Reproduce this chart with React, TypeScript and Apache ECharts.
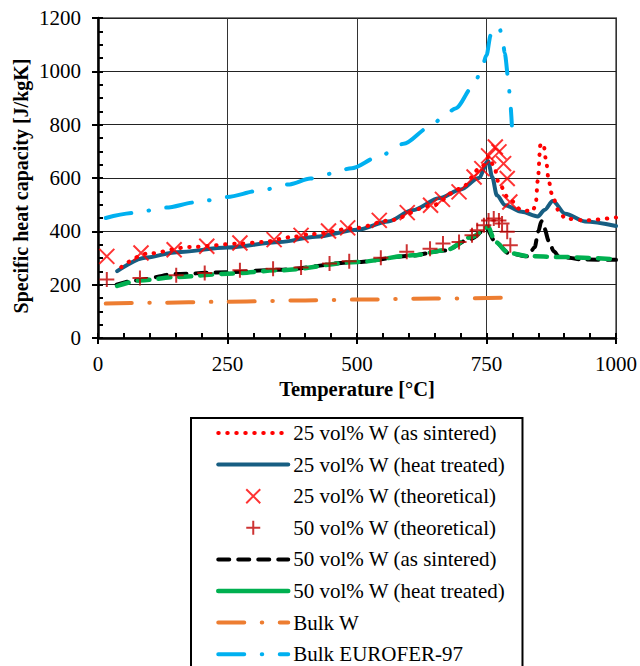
import React, { useEffect, useRef } from "react";
import * as echarts from "echarts";

const SERIF = "Liberation Serif";

// Temperature [°C] / specific heat capacity [J/kgK] pairs
const sintered25: [number, number][] = [
  [45, 266], [94, 316], [177, 341], [274, 354], [318, 360], [376, 379], [408, 389],
  [500, 413], [560, 440], [645, 497], [700, 560], [740, 640], [755, 680], [765, 640],
  [774, 579], [793, 523], [818, 479], [839, 475], [845, 501], [849, 591], [854, 723],
  [860, 729], [865, 666], [870, 591], [876, 541], [889, 479], [902, 448], [940, 441],
  [1000, 452],
];
const treated25: [number, number][] = [
  [37, 251], [91, 301], [152, 322], [250, 339], [351, 360], [420, 380], [501, 406],
  [560, 437], [607, 479], [660, 525], [700, 557], [735, 600], [753, 664], [761, 604],
  [770, 535], [786, 498], [818, 473], [849, 456], [862, 480], [878, 514], [902, 466],
  [940, 437], [1000, 420],
];
const theory25: [number, number][] = [
  [17, 306], [83, 319], [147, 331], [210, 344], [274, 356], [340, 369], [392, 385],
  [445, 401], [482, 413], [543, 441], [597, 470], [642, 498], [665, 520], [697, 548],
  [726, 604], [741, 635], [754, 683], [767, 716], [774, 698], [783, 654], [790, 598],
  [795, 510],
];
const theory50: [number, number][] = [
  [17, 219], [81, 225], [151, 235], [206, 244], [274, 254], [338, 260], [392, 264],
  [447, 279], [485, 288], [546, 301], [596, 323], [641, 335], [666, 354], [697, 360],
  [722, 385], [732, 404], [745, 423], [754, 441], [764, 448], [774, 441], [780, 429],
  [790, 398], [796, 348],
];
const sintered50: [number, number][] = [
  [36, 200], [72, 216], [150, 240], [250, 247], [350, 256], [500, 285], [600, 308],
  [670, 328], [720, 372], [750, 410], [767, 360], [793, 318], [830, 306], [843, 340],
  [850, 400], [856, 438], [862, 410], [870, 365], [880, 325], [890, 305], [940, 294],
  [1000, 293],
];
const treated50: [number, number][] = [
  [37, 195], [81, 216], [152, 229], [250, 241], [351, 254], [501, 285], [607, 310],
  [671, 329], [722, 379], [753, 416], [767, 360], [793, 319], [831, 307], [889, 304],
  [1000, 295],
];
const bulkW: [number, number][] = [
  [15, 129], [100, 132], [250, 136], [400, 141], [500, 144], [650, 148], [790, 151],
];
const eurofer: [number, number][] = [
  [15, 450], [70, 469], [130, 489], [190, 509], [250, 529], [310, 552], [370, 576],
  [410, 598], [450, 616], [490, 637], [540, 678], [590, 728], [640, 790], [665, 826],
  [690, 861], [725, 945], [740, 1004], [750, 1060], [758, 1135], [767, 1168],
  [775, 1160], [781, 1129], [785, 1069], [793, 960], [795, 898], [799, 797],
];

const seriesNames = [
  "25 vol% W (as sintered)",
  "25 vol% W (heat treated)",
  "25 vol% W (theoretical)",
  "50 vol% W (theoretical)",
  "50 vol% W (as sintered)",
  "50 vol% W (heat treated)",
  "Bulk W",
  "Bulk EUROFER-97",
];

const xTickStep = 250;
const yTickStep = 200;
const minorStep = 50;

const CROSS = "path://M0,0L10,10M10,0L0,10";
const PLUS = "path://M5,0L5,10M0,5L10,5";

const lineSeries = (
  name: string,
  data: [number, number][],
  color: string,
  width: number,
  type: any,
  z = 2
) => ({
  name,
  type: "line",
  data,
  symbol: "none",
  smooth: 0.3,
  smoothMonotone: "x",
  z,
  itemStyle: { color },
  lineStyle: { color, width, type, cap: "round", join: "round" },
});

const scatterSeries = (name: string, data: [number, number][], color: string, symbol: string) => ({
  name,
  type: "scatter",
  data,
  symbol,
  symbolSize: 15,
  symbolKeepAspect: true,
  z: 5,
  itemStyle: { color: "rgba(0,0,0,0)", borderColor: color, borderWidth: 2 },
});

export default function App() {
  const ref = useRef<HTMLDivElement>(null);

  useEffect(() => {
    document.body.style.margin = "0";
    const chart = echarts.init(ref.current!, null, { renderer: "svg" });

    const axisLabel = {
      fontFamily: SERIF,
      fontSize: 21,
      color: "#000",
      formatter: (v: number) => String(v),
    };

    chart.setOption({
      animation: false,
      backgroundColor: "#fff",
      grid: {
        left: 98,
        top: 18,
        width: 520,
        height: 320,
        show: true,
        borderColor: "#7f7f7f",
        borderWidth: 2,
        backgroundColor: "transparent",
      },
      xAxis: [
        {
          type: "value",
          min: 0,
          max: 1000,
          interval: xTickStep,
          name: "Temperature [°C]",
          nameLocation: "middle",
          nameGap: 40,
          nameTextStyle: { fontFamily: SERIF, fontSize: 20.5, fontWeight: "bold", color: "#000" },
          axisLine: { lineStyle: { color: "#000", width: 2.5 } },
          axisTick: { length: 6, lineStyle: { color: "#000", width: 2 } },
          axisLabel: { ...axisLabel, margin: 15 },
          splitLine: { show: true, lineStyle: { color: "#333", width: 1 } },
        },
        {
          type: "value",
          min: 0,
          max: 1000,
          interval: minorStep,
          position: "bottom",
          axisLine: { show: false },
          axisTick: { inside: true, length: 5, lineStyle: { color: "#000", width: 2 } },
          axisLabel: { show: false },
          splitLine: { show: false },
        },
      ],
      yAxis: [
        {
          type: "value",
          min: 0,
          max: 1200,
          interval: yTickStep,
          axisLine: { show: true, lineStyle: { color: "#000", width: 2.5 } },
          axisTick: { show: true, length: 6, lineStyle: { color: "#000", width: 2 } },
          axisLabel: { ...axisLabel, margin: 17 },
          splitLine: { show: true, lineStyle: { color: "#222", width: 1 } },
        },
        {
          type: "value",
          min: 0,
          max: 1200,
          interval: minorStep,
          position: "left",
          axisLine: { show: false },
          axisTick: { show: true, inside: true, length: 5, lineStyle: { color: "#000", width: 2 } },
          axisLabel: { show: false },
          splitLine: { show: false },
        },
      ],
      legend: {
        orient: "vertical",
        left: 191,
        top: 418,
        height: 400,
        padding: [4, 17, 6, 25],
        itemWidth: 70,
        itemHeight: 14,
        itemGap: 9.6,
        selectedMode: false,
        borderColor: "#000",
        borderWidth: 2,
        backgroundColor: "#fff",
        lineStyle: { width: "inherit" },
        textStyle: { fontFamily: SERIF, fontSize: 21, color: "#000", lineHeight: 22 },
        data: seriesNames.map((name, i) => {
          const isLine = i !== 2 && i !== 3;
          const item: any = { name };
          if (isLine) item.itemStyle = { opacity: 0 };
          if (i === 5) item.lineStyle = { type: "solid" };
          return item;
        }),
      },
      graphic: [
        {
          type: "text",
          x: 21,
          y: 186,
          rotation: Math.PI / 2,
          style: {
            text: "Specific heat capacity [J/kgK]",
            font: `bold 20px ${SERIF}`,
            fill: "#000",
            align: "center",
            verticalAlign: "middle",
          },
        },
      ],
      series: [
        lineSeries(seriesNames[0], sintered25, "#ff0000", 4, [0.5, 8.5], 4),
        lineSeries(seriesNames[1], treated25, "#175e82", 4, "solid", 3),
        scatterSeries(seriesNames[2], theory25, "#ff0000", CROSS),
        scatterSeries(seriesNames[3], theory50, "#c00000", PLUS),
        lineSeries(seriesNames[4], sintered50, "#000000", 4, [11, 9], 3),
        lineSeries(seriesNames[5], treated50, "#00b050", 4.5, [12, 9], 3),
        lineSeries(seriesNames[6], bulkW, "#ed7d31", 4, [26, 17.5, 0.5, 17.5]),
        lineSeries(seriesNames[7], eurofer, "#00b0f0", 4, [26, 17.5, 0.5, 17.5]),
      ],
    });

    return () => chart.dispose();
  }, []);

  return <div ref={ref} style={{ width: 640, height: 666 }} />;
}
